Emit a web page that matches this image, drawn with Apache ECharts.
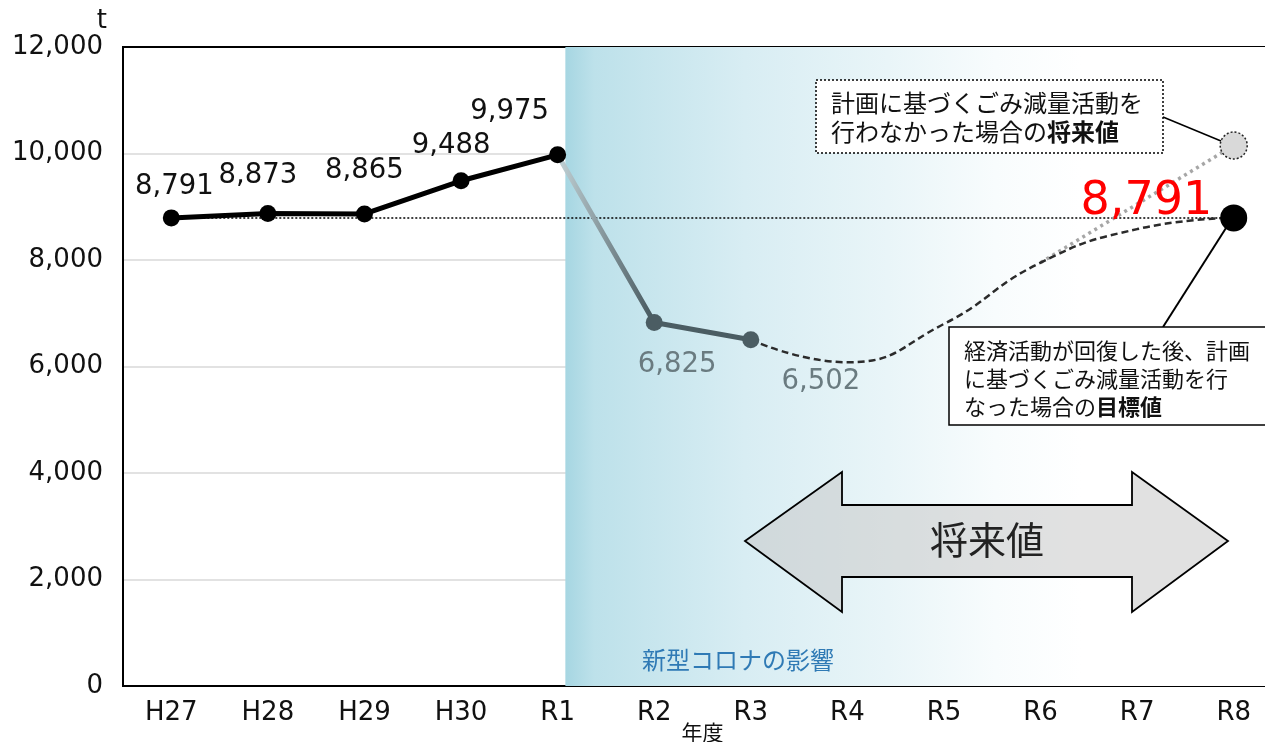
<!DOCTYPE html>
<html><head><meta charset="utf-8">
<script src="https://cdn.jsdelivr.net/npm/echarts@6/dist/echarts.min.js"></script>
<style>html,body{margin:0;padding:0;background:#fff}#c{width:1265px;height:742px}</style>
</head><body><div id="c"></div>
<script>
const categories = ['H27','H28','H29','H30','R1','R2','R3','R4','R5','R6','R7','R8'];
const actualValues = [8791, 8873, 8865, 9488, 9975];
const covidValues = [null, null, null, null, 9975, 6825, 6502];
const targetValues = [null, null, null, null, null, null, 6502, 6080, 6800, 7950, 8580, 8791];
const noPlanValues = [null, null, null, null, null, null, null, null, null, 7950, 9050, 10150];
const baseValue = 8791;
const yTicks = {min: 0, max: 12000, interval: 2000};
const covidStart = 4.08;

const NUM = "'DejaVu Sans','Noto Sans CJK JP',sans-serif";
const JP = "'Noto Sans CJK JP','DejaVu Sans',sans-serif";
const fmt = v => Number(v).toLocaleString('en-US');

const actualLabelOffsets = [[3,-4],[-10,-10],[0,-16],[-10,-8],[-48,-16]];
const covidLabelOffsets = {5:[23,15], 6:[70,15]};

const chart = echarts.init(document.getElementById('c'));
const option = {
  animation: false,
  grid: {left: 123, top: 47, width: 1159, height: 639, outerBoundsMode: 'none', containLabel: false,
    show: true, borderColor: '#000', borderWidth: 2, backgroundColor: 'transparent'},
  xAxis: [{
    type: 'category', data: categories, boundaryGap: true,
    axisLine: {lineStyle: {color: '#000', width: 2}},
    axisTick: {show: false},
    axisLabel: {fontFamily: NUM, fontSize: 26, color: '#111', margin: 14},
    name: '年度', nameLocation: 'middle', nameGap: 36, nameMoveOverlap: false,
    nameTextStyle: {fontFamily: JP, fontSize: 21, color: '#111', verticalAlign: 'top', lineHeight: 21}
  }, {
    type: 'value', min: -0.5, max: 11.5, show: false
  }],
  yAxis: {
    type: 'value', min: yTicks.min, max: yTicks.max, interval: yTicks.interval,
    axisLine: {show: true, onZero: false, lineStyle: {color: '#000', width: 2}},
    axisTick: {show: false},
    splitLine: {showMaxLine: false, showMinLine: false, lineStyle: {color: '#d9d9d9', width: 1.5}},
    axisLabel: {fontFamily: NUM, fontSize: 26, color: '#111', margin: 20, formatter: fmt},
    name: 't', nameLocation: 'end', nameGap: 9,
    nameTextStyle: {fontFamily: NUM, fontSize: 26, color: '#111', align: 'right', padding: [0, 16, 0, 0]}
  },
  series: [
    {
      type: 'line', xAxisIndex: 1, data: [], z: 0,
      markArea: {
        silent: true,
        itemStyle: {color: {type: 'linear', x: 0, y: 0, x2: 1, y2: 0, colorStops: [
          {offset: 0, color: '#a6d6e2'}, {offset: 0.04, color: '#bde1ea'},
          {offset: 0.25, color: '#d8edf3'}, {offset: 0.45, color: '#e9f5f8'},
          {offset: 0.6, color: '#f8fcfd'}, {offset: 0.72, color: '#ffffff'}, {offset: 1, color: '#ffffff'}]}},
        data: [[{xAxis: covidStart, yAxis: yTicks.min}, {xAxis: 11.5, yAxis: yTicks.max}]]
      }
    },
    {
      type: 'line', data: noPlanValues, connectNulls: true, z: 3,
      symbol: 'none',
      lineStyle: {color: '#a6a6a6', width: 3.5, type: [3, 4]}
    },
    {
      type: 'line', data: targetValues, smooth: 0.5, z: 4,
      symbol: 'none',
      lineStyle: {color: '#2b2b2b', width: 2.5, type: [7, 4]}
    },
    {
      type: 'line', z: 5,
      data: covidValues.map((v, i) => v == null ? null : (i === 4 ? {value: v, symbol: 'none'} : {
        value: v,
        label: {show: true, position: 'bottom', distance: 5, offset: covidLabelOffsets[i], formatter: p => fmt(p.value),
          fontFamily: NUM, fontSize: 27.5, color: '#6a7b80'}
      })),
      symbol: 'circle', symbolSize: 17,
      itemStyle: {color: '#4b5d63'},
      lineStyle: {width: 5, color: {type: 'linear', x: 0, y: 0, x2: 1, y2: 0, colorStops: [
        {offset: 0, color: '#c4d4d8'}, {offset: 0.48, color: '#4b5d63'}, {offset: 1, color: '#4b5d63'}]}}
    },
    {
      type: 'line', z: 6,
      data: actualValues.map((v, i) => ({value: v, label: {offset: actualLabelOffsets[i]}})),
      symbol: 'circle', symbolSize: 17,
      itemStyle: {color: '#000'},
      lineStyle: {color: '#000', width: 5},
      label: {show: true, position: 'top', distance: 5, formatter: p => fmt(p.value), fontFamily: NUM, fontSize: 27.5, color: '#111'},
      markLine: {
        silent: true, symbol: 'none', z: 1,
        lineStyle: {color: '#000', width: 1.5, type: [2, 2]},
        label: {show: false},
        data: [[{coord: [categories[0], baseValue]}, {coord: [categories[categories.length - 1], baseValue]}]]
      }
    },
    {
      type: 'scatter', z: 7,
      data: [[categories[11], noPlanValues[11]]],
      symbol: 'circle', symbolSize: 27,
      itemStyle: {color: '#d9d9d9', opacity: 1, borderColor: '#222', borderWidth: 1.5, borderType: [2, 2]}
    },
    {
      type: 'scatter', z: 8,
      data: [[categories[11], targetValues[11]]],
      symbol: 'circle', symbolSize: 27,
      itemStyle: {color: '#000', opacity: 1},
      label: {show: true, position: 'left', distance: 8, offset: [0, -16], formatter: p => fmt(p.value[1]),
        fontFamily: NUM, fontSize: 46, color: '#ff0000'}
    }
  ],
  graphic: [
    {type: 'text', z: 50, style: {text: '新型コロナの影響', x: 738, y: 660, align: 'center', verticalAlign: 'middle',
      font: "24px 'Noto Sans CJK JP', sans-serif", fill: '#2f7ab5'}},
    {type: 'polygon', z: 50, shape: {points: [[745,541],[842,472],[842,505],[1132,505],[1132,472],[1228,541],[1132,612],[1132,577],[842,577],[842,612]]},
      style: {fill: 'rgba(200,200,200,0.55)', stroke: '#000', lineWidth: 1.8}},
    {type: 'text', z: 51, style: {text: '将来値', x: 987, y: 540, align: 'center', verticalAlign: 'middle',
      font: "38px 'Noto Sans CJK JP', sans-serif", fill: '#222'}},
    {type: 'line', z: 50, shape: {x1: 1163, y1: 117, x2: 1221, y2: 141}, style: {stroke: '#000', lineWidth: 1.5}},
    {type: 'line', z: 50, shape: {x1: 1163, y1: 327, x2: 1226, y2: 228}, style: {stroke: '#000', lineWidth: 2}},
    {type: 'rect', z: 52, shape: {x: 816, y: 80, width: 347, height: 73},
      style: {fill: '#fff', stroke: '#000', lineWidth: 1.5, lineDash: [2, 2]}},
    {type: 'text', z: 53, style: {x: 831, y: 117, verticalAlign: 'middle', lineHeight: 29,
      text: '計画に基づくごみ減量活動を\n行わなかった場合の{b|将来値}',
      font: "24px 'Noto Sans CJK JP', sans-serif", fill: '#111',
      rich: {b: {fontFamily: JP, fontSize: 24, fontWeight: 'bold', fill: '#111', lineHeight: 29}}}},
    {type: 'rect', z: 52, shape: {x: 949, y: 327, width: 340, height: 98},
      style: {fill: '#fff', stroke: '#000', lineWidth: 1.5}},
    {type: 'text', z: 53, style: {x: 964, y: 379, verticalAlign: 'middle', lineHeight: 28,
      text: '経済活動が回復した後、計画\nに基づくごみ減量活動を行\nなった場合の{b|目標値}',
      font: "22px 'Noto Sans CJK JP', sans-serif", fill: '#111',
      rich: {b: {fontFamily: JP, fontSize: 22, fontWeight: 'bold', fill: '#111', lineHeight: 28}}}}
  ]
};
chart.setOption(option);
</script></body></html>
